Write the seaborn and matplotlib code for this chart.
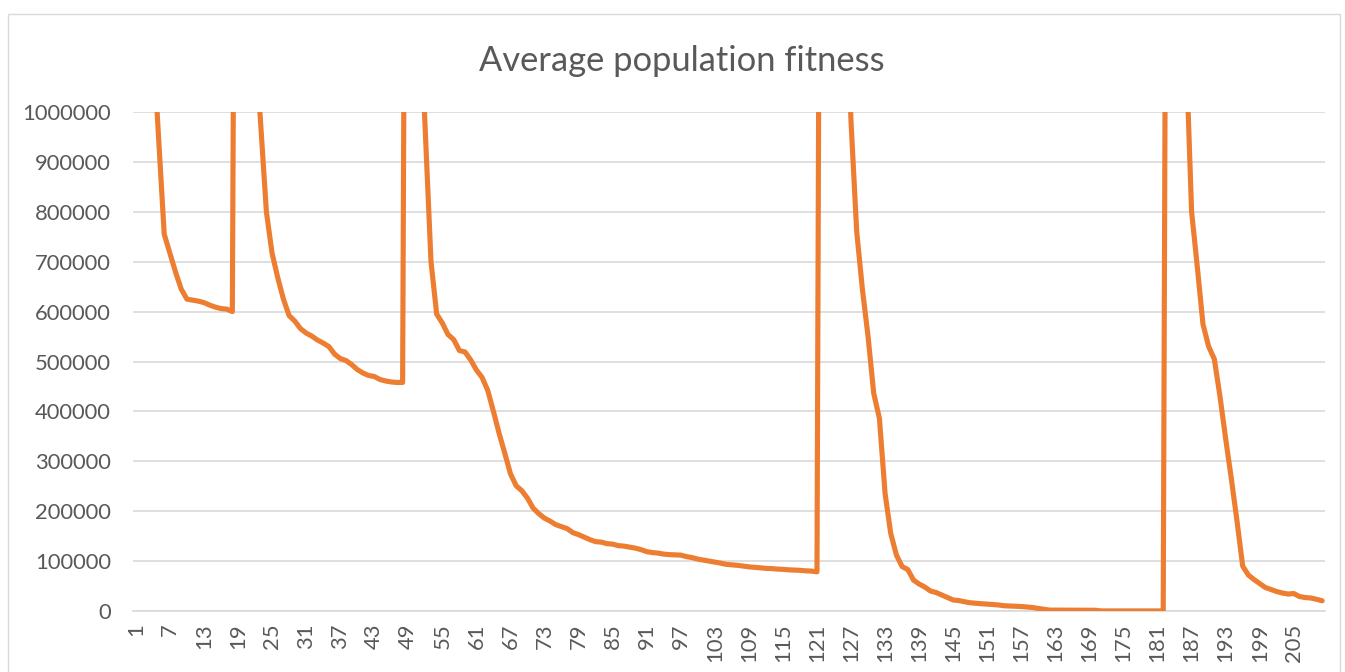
import numpy as np
import pandas as pd
import seaborn as sns
import matplotlib.pyplot as plt
from matplotlib.patches import Rectangle

# Average fitness per generation, one list per restart of the population.
run_1 = [3200000, 2400000, 1700000, 1150000, 950000, 755000, 717000, 679000,
         645000, 625000, 623000, 621000, 618000, 613000, 609000, 606000,
         605000, 600000]
run_2 = [3000000, 2300000, 1600000, 1150000, 975000, 800000, 717000, 668000,
         625000, 592000, 581000, 566000, 557000, 551000, 543000, 537000,
         530000, 515000, 506000, 502000, 494000, 484000, 477000, 472000,
         470000, 464000, 461000, 459000, 458000, 458000]
run_3 = [3100000, 2000000, 1220000, 960000, 700000, 595000, 577000, 554000,
         544000, 522000, 519000, 503000, 483000, 468000, 442000, 400000,
         356000, 316000, 275000, 251000, 241000, 226000, 206000, 195000,
         186000, 180000, 173000, 169000, 165000, 157000, 153000, 148000,
         143000, 139000, 138000, 135000, 134000, 131000, 130000, 128000,
         126000, 123000, 119000, 117000, 116000, 114000, 113000, 112500,
         112000, 109000, 107000, 104000, 102000, 100000, 98000, 96000,
         93500, 92500, 91500, 90000, 88500, 87500, 86500, 85500,
         85000, 84000, 83500, 82500, 82000, 81500, 80500, 80000,
         78500]
run_4 = [3300000, 2700000, 2100000, 1600000, 1300000, 980000, 760000, 645000,
         550000, 436000, 386000, 235000, 155000, 112000, 89000, 83000,
         62000, 54000, 48000, 40000, 37000, 32000, 27000, 22000,
         21000, 18500, 16500, 15500, 14500, 13800, 13000, 12000,
         10500, 10000, 9500, 9000, 8000, 7000, 5000, 3400,
         1800, 1800, 1700, 1700, 1600, 1600, 1500, 1500, 1500,
         200, 200, 200, 200, 200, 200, 200, 200, 200, 200, 200, 200]
run_5 = [3200000, 2400000, 1700000, 1130000, 800000, 690000, 575000, 530000,
         505000, 430000, 345000, 265000, 180000, 90000, 72000, 63000,
         55000, 47000, 43000, 39000, 36000, 34000, 35000, 29000,
         27000, 26000, 23500, 20500]

tick_labels = [1, 7, 13, 19, 25, 31, 37, 43, 49, 55, 61, 67, 73, 79, 85,
               91, 97, 103, 109, 115, 121, 127, 133, 139, 145, 151, 157,
               163, 169, 175, 181, 187, 193, 199, 205]
y_ticks = [0, 100000, 200000, 300000, 400000, 500000, 600000, 700000,
           800000, 900000, 1000000]

fitness = run_1 + run_2 + run_3 + run_4 + run_5
df = pd.DataFrame({"generation": np.arange(1, len(fitness) + 1),
                   "fitness": fitness})

sns.set_theme(style="white")
plt.rcParams["font.family"] = ["Lato", "DejaVu Sans"]

W, H = 1345, 672
fig = plt.figure(figsize=(W / 100, H / 100), dpi=100)
fig.patch.set_facecolor("white")
ax = fig.add_axes([133 / W, 1 - 611 / H, (1325 - 133) / W, (611 - 112) / H])

text_color = "#595959"
grid_color = "#D9D9D9"

sns.lineplot(data=df, x="generation", y="fitness", ax=ax, color="#ED7D31",
             linewidth=3.7, solid_joinstyle="round", solid_capstyle="round",
             zorder=3)

ax.set_xlim(0.5, len(fitness) + 0.5)
ax.set_ylim(0, 1000000)
ax.set_xticks(tick_labels)
ax.set_xticklabels([str(t) for t in tick_labels], rotation=90,
                   fontsize=15.8, color=text_color)
ax.set_yticks(y_ticks)
ax.set_yticklabels([str(v) for v in y_ticks], fontsize=15.8, color=text_color)
ax.tick_params(axis="x", length=0, pad=9)
ax.tick_params(axis="y", length=0, pad=16)
ax.set_xlabel("")
ax.set_ylabel("")

ax.yaxis.grid(True, color=grid_color, linewidth=1.2)
ax.xaxis.grid(False)
ax.set_axisbelow(True)
for side in ("left", "right", "top"):
    ax.spines[side].set_visible(False)
ax.spines["bottom"].set_color(grid_color)
ax.spines["bottom"].set_linewidth(1.2)

fig.text(682 / W, 1 - 71 / H, "Average population fitness", ha="center",
         va="baseline", fontsize=24.8, color=text_color)

# Thin frame around the chart area
fig.patches.append(Rectangle((8 / W, -0.05), (1340 - 8) / W, 1.05 - 14 / H,
                             transform=fig.transFigure, fill=False,
                             edgecolor=grid_color, linewidth=1.0))

fig.savefig("out.png", dpi=100, facecolor="white")
